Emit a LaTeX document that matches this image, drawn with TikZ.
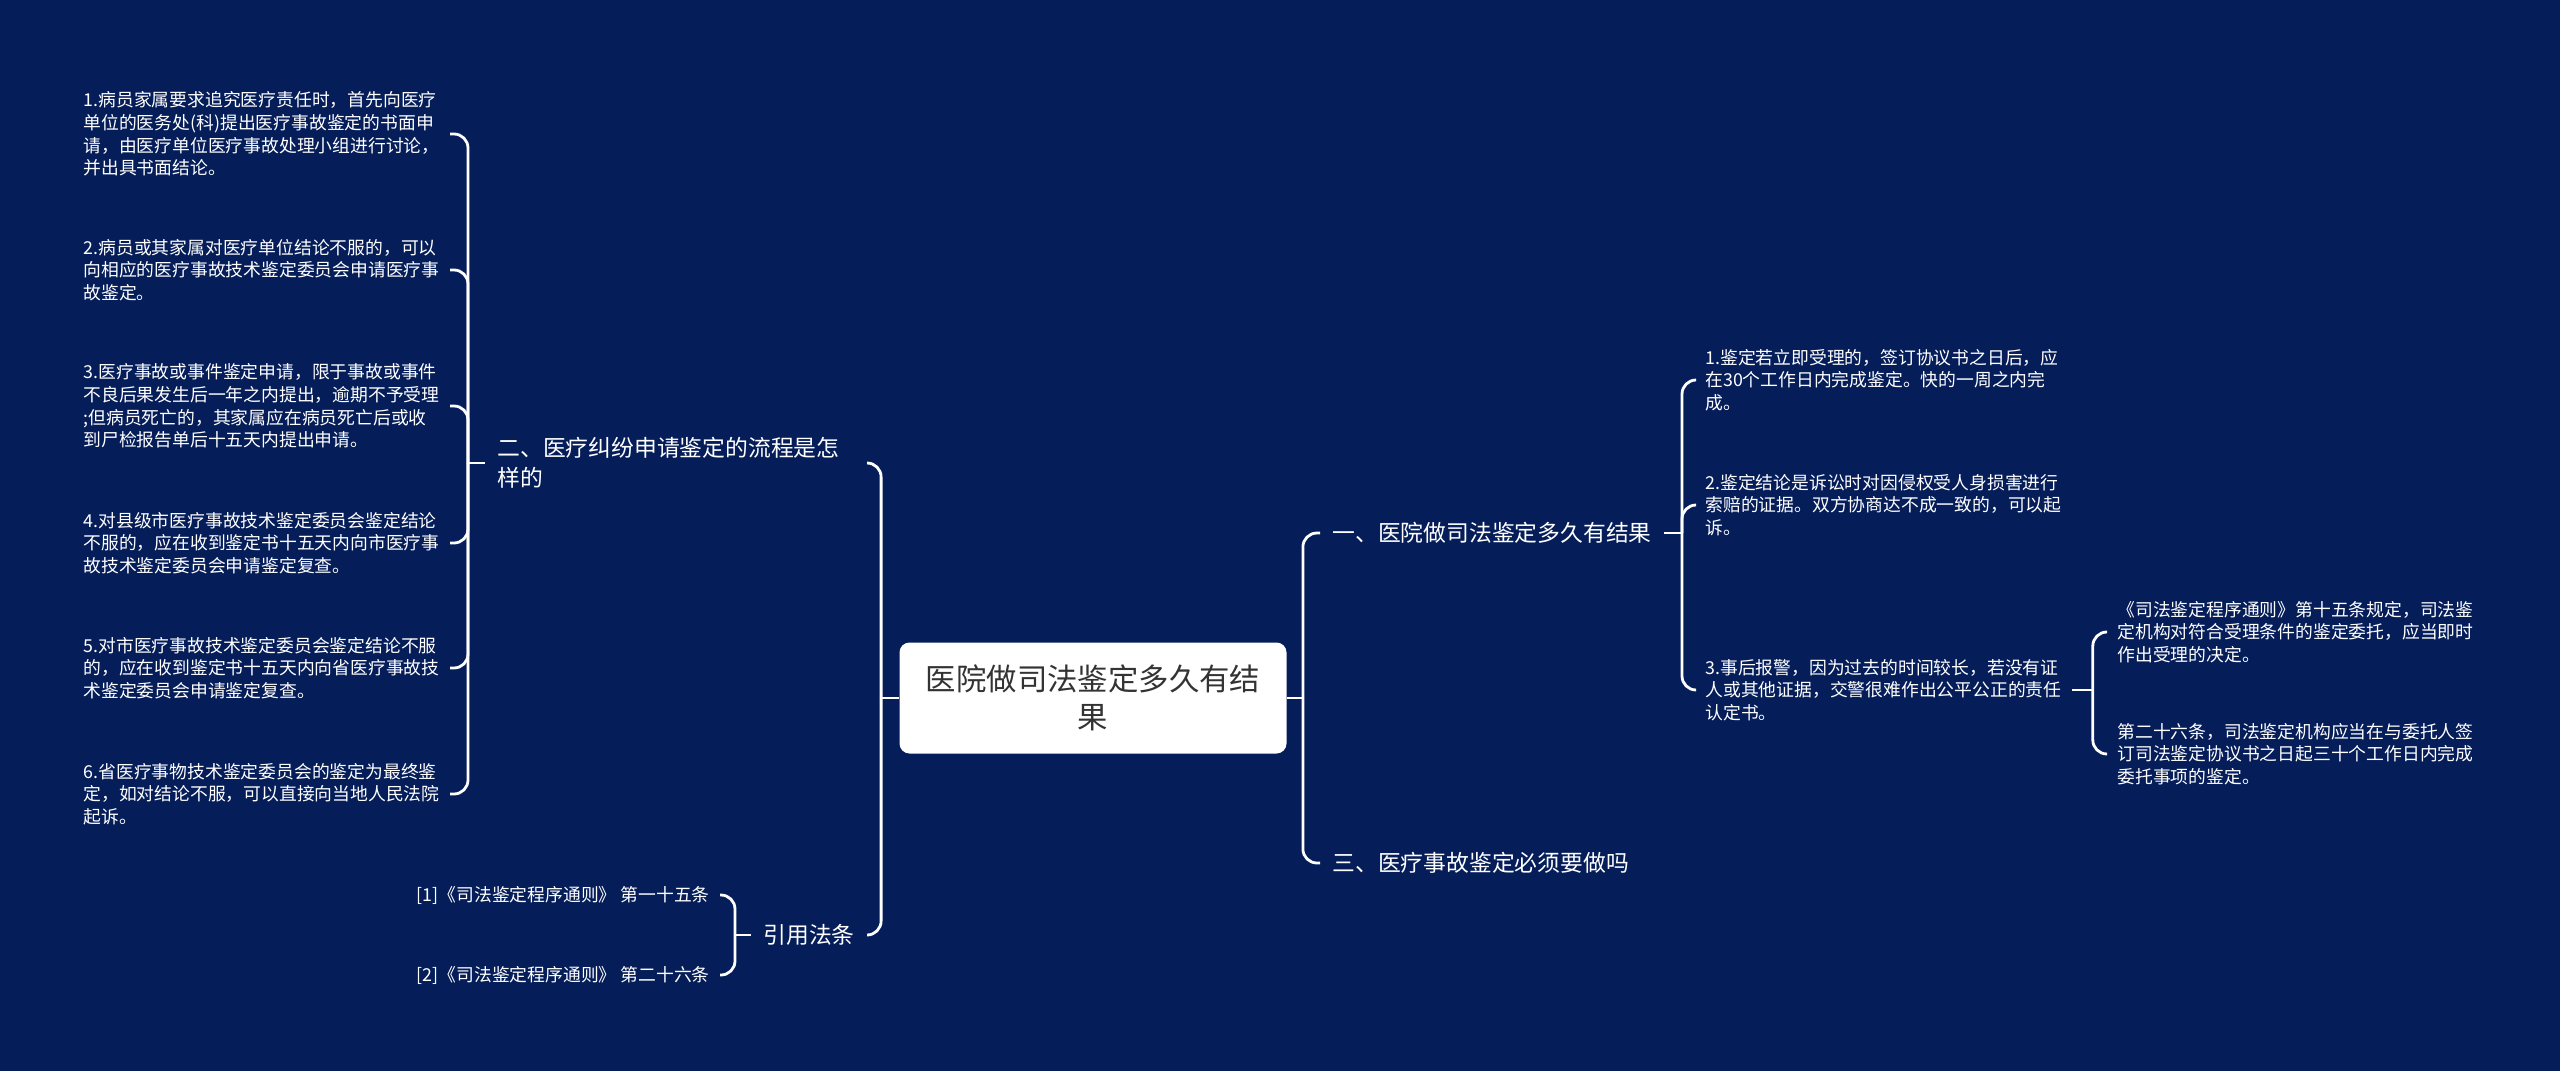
\documentclass[tikz,border=0pt]{standalone}
\usepackage{fontspec}
\setmainfont{Noto Sans CJK SC}
\definecolor{navy}{RGB}{5,29,89}
\definecolor{roottext}{RGB}{51,51,51}
\begin{document}
\begin{tikzpicture}[x=0.5pt, y=-0.5pt,
	rootbox/.style={fill=white, rounded corners=5pt, text=roottext, font=\fontsize{15.2}{19}\selectfont, align=center, minimum width=193.5pt, minimum height=55.5pt, inner sep=0pt},
	topic/.style={text=white, font=\fontsize{11.4}{15}\selectfont, inner xsep=6pt, inner ysep=2pt},
	leaf/.style={text=white, font=\fontsize{8.9}{11.3}\selectfont, text width=178pt, align=left, inner xsep=5pt, inner ysep=2pt},
	cite/.style={text=white, font=\fontsize{8.9}{11.3}\selectfont, inner xsep=5pt, inner ysep=2pt},
	link/.style={draw=white, line width=1.4pt},
	elbow/.style={link, rounded corners=7pt}]
		\fill[navy] (0,0) rectangle (2560,1071);
		\node[rootbox] (root) at (1093,698) {医院做司法鉴定多久有结\\果};
		\node[topic, anchor=west, text width=179pt, align=left] (q2) at (485,463) {二、医疗纠纷申请鉴定的流程是怎\\样的};
		\node[topic, anchor=east] (law) at (867,935) {引用法条};
		\node[topic, anchor=west] (q1) at (1320,533) {一、医院做司法鉴定多久有结果};
		\node[topic, anchor=west] (q3) at (1320,863) {三、医疗事故鉴定必须要做吗};
		\node[leaf, anchor=east] (s1) at (450,134) {1.病员家属要求追究医疗责任时，首先向医疗\\单位的医务处(科)提出医疗事故鉴定的书面申\\请，由医疗单位医疗事故处理小组进行讨论，\\并出具书面结论。};
		\node[leaf, anchor=east] (s2) at (450,270) {2.病员或其家属对医疗单位结论不服的，可以\\向相应的医疗事故技术鉴定委员会申请医疗事\\故鉴定。};
		\node[leaf, anchor=east] (s3) at (450,406) {3.医疗事故或事件鉴定申请，限于事故或事件\\不良后果发生后一年之内提出，逾期不予受理\\;但病员死亡的，其家属应在病员死亡后或收\\到尸检报告单后十五天内提出申请。};
		\node[leaf, anchor=east] (s4) at (450,543) {4.对县级市医疗事故技术鉴定委员会鉴定结论\\不服的，应在收到鉴定书十五天内向市医疗事\\故技术鉴定委员会申请鉴定复查。};
		\node[leaf, anchor=east] (s5) at (450,668) {5.对市医疗事故技术鉴定委员会鉴定结论不服\\的，应在收到鉴定书十五天内向省医疗事故技\\术鉴定委员会申请鉴定复查。};
		\node[leaf, anchor=east] (s6) at (450,794) {6.省医疗事物技术鉴定委员会的鉴定为最终鉴\\定，如对结论不服，可以直接向当地人民法院\\起诉。};
		\node[cite, anchor=east] (c1) at (720,895) {[1]《司法鉴定程序通则》 第一十五条};
		\node[cite, anchor=east] (c2) at (720,975) {[2]《司法鉴定程序通则》 第二十六条};
		\node[leaf, anchor=west] (r1) at (1695,380) {1.鉴定若立即受理的，签订协议书之日后，应\\在30个工作日内完成鉴定。快的一周之内完\\成。};
		\node[leaf, anchor=west] (r2) at (1695,505) {2.鉴定结论是诉讼时对因侵权受人身损害进行\\索赔的证据。双方协商达不成一致的，可以起\\诉。};
		\node[leaf, anchor=west] (r3) at (1695,690) {3.事后报警，因为过去的时间较长，若没有证\\人或其他证据，交警很难作出公平公正的责任\\认定书。};
		\node[leaf, anchor=west] (u1) at (2107,632) {《司法鉴定程序通则》第十五条规定，司法鉴\\定机构对符合受理条件的鉴定委托，应当即时\\作出受理的决定。};
		\node[leaf, anchor=west] (u2) at (2107,754) {第二十六条，司法鉴定机构应当在与委托人签\\订司法鉴定协议书之日起三十个工作日内完成\\委托事项的鉴定。};
		\draw[link] (root.west) -- ++(-18,0) coordinate (lt);
		\draw[elbow] (lt) |- (q2.east);
		\draw[elbow] (lt) |- (law.east);
		\draw[link] (root.east) -- ++(16,0) coordinate (rt);
		\draw[elbow] (rt) |- (q1.west);
		\draw[elbow] (rt) |- (q3.west);
		\draw[link] (q2.west) -- ++(-17,0) coordinate (t2);
		\foreach \i in {1,...,6}
			\draw[elbow] (t2) |- (s\i.east);
		\draw[link] (law.west) -- ++(-16,0) coordinate (tc);
		\foreach \i in {1,2}
			\draw[elbow] (tc) |- (c\i.east);
		\draw[link] (q1.east) -- ++(18,0) coordinate (t1);
		\foreach \i in {1,2,3}
			\draw[elbow] (t1) |- (r\i.west);
		\draw[link] (r3.east) -- ++(21,0) coordinate (t3);
		\foreach \i in {1,2}
			\draw[elbow] (t3) |- (u\i.west);
	\end{tikzpicture}
\end{document}
